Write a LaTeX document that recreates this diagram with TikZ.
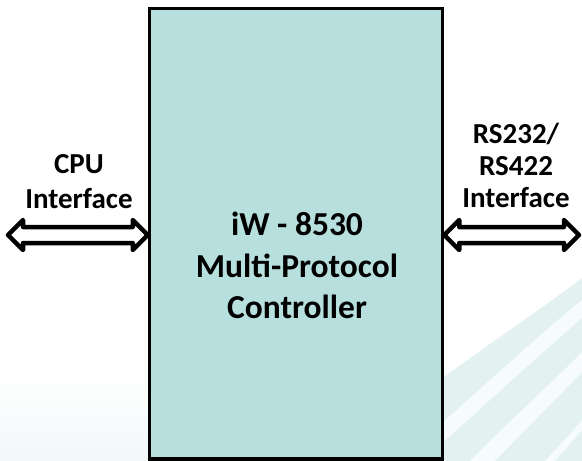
\documentclass[tikz,border=0pt]{standalone}
\usepackage{fontspec}
\setmainfont{Carlito}
\usetikzlibrary{calc}
\definecolor{boxfill}{HTML}{B7DFDD}
\definecolor{swoosh}{HTML}{E3F2F1}
\definecolor{swooshW}{HTML}{F6FBFB}
\definecolor{floor}{HTML}{F2F8F8}
\begin{document}
\begin{tikzpicture}[x=1pt,y=-1pt,
  mainbox/.style={draw=black,line width=3.5pt,fill=boxfill},
  dblarrow/.style={draw=black,line width=4.5pt,fill=white,line join=round},
  lbl/.style={font=\bfseries\fontsize{29}{32}\selectfont,align=center,inner sep=0pt,anchor=base},
  ctext/.style={font=\bfseries\fontsize{33.5}{41}\selectfont,align=center,inner sep=0pt,anchor=base}]
\useasboundingbox (0,0) rectangle (582,461);
\fill[white] (0,0) rectangle (582,461);
% faint background
\shade[top color=white,bottom color=floor] (0,370) rectangle (582,461);
\fill[swoosh] (440,380) .. controls (480,350) and (540,310) .. (582,278) -- (582,461) -- (440,461) -- cycle;
\fill[swooshW] (440,425) .. controls (490,380) and (545,330) .. (582,300) -- (582,318) .. controls (545,350) and (490,400) .. (440,445) -- cycle;
\fill[swooshW] (470,461) .. controls (510,420) and (550,385) .. (582,352) -- (582,372) .. controls (555,400) and (520,435) .. (495,461) -- cycle;
\fill[swooshW] (545,461) .. controls (560,445) and (572,432) .. (582,420) -- (582,430) .. controls (572,442) and (562,452) .. (555,461) -- cycle;
% main box
\node[mainbox,minimum width=293pt,minimum height=450.5pt,inner sep=0pt] (ctrl) at (296,233.75) {};
\node[ctext] (t1) at (297,235) {iW - 8530};
\node[ctext] (t2) at (297,277) {Multi-Protocol};
\node[ctext] (t3) at (297,318) {Controller};
% left arrow
\coordinate (la) at (8,235);
\coordinate (lb) at (ctrl.west |- la);
\draw[dblarrow] (la) -- ++(15,-15) -- ++(0,7) -- ($(lb)+(-15,-8)$) -- ++(0,-7) -- (lb) -- ++(-15,15) -- ++(0,-7) -- ($(la)+(15,8)$) -- ++(0,7) -- cycle;
% right arrow
\coordinate (ra) at (ctrl.east |- la);
\coordinate (rb) at (579,235);
\draw[dblarrow] (ra) -- ++(15,-15) -- ++(0,7) -- ($(rb)+(-15,-8)$) -- ++(0,-7) -- (rb) -- ++(-15,15) -- ++(0,-7) -- ($(ra)+(15,8)$) -- ++(0,7) -- cycle;
% labels
\node[lbl] (l1) at (79,173) {CPU};
\node[lbl] (l2) at (79,208) {Interface};
\node[lbl] (r1) at (516,143) {RS232/};
\node[lbl] (r2) at (516,175) {RS422};
\node[lbl] (r3) at (516,207) {Interface};
\end{tikzpicture}
\end{document}
